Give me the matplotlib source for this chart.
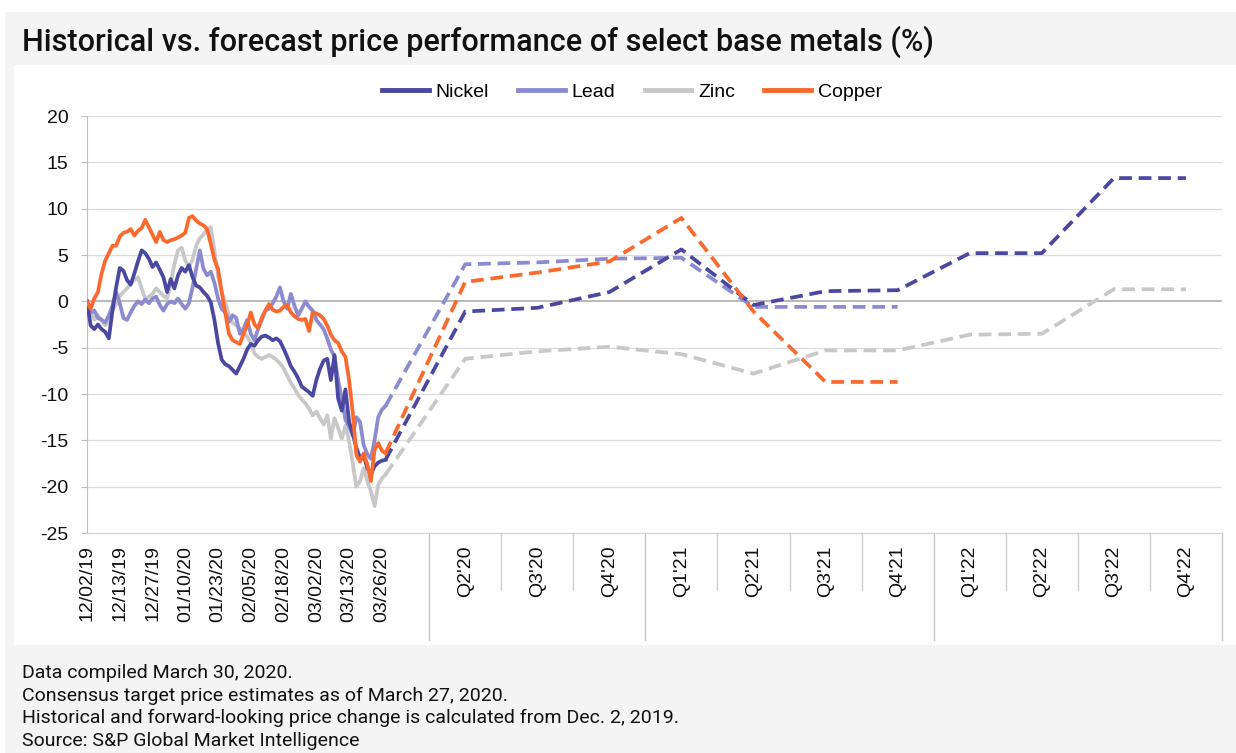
import matplotlib
matplotlib.use("Agg")
import matplotlib.pyplot as plt
from matplotlib import font_manager
from matplotlib.patches import Rectangle
import matplotlib.transforms as mtransforms

plt.rcParams['axes.unicode_minus'] = False

# fonts
names = {f.name for f in font_manager.fontManager.ttflist}
head_font = 'Roboto' if 'Roboto' in names else 'Liberation Sans'
plt.rcParams['font.family'] = ['Liberation Sans', 'DejaVu Sans']

# ---- data ----
date_labels = ['12/02/19', '12/13/19', '12/27/19', '01/10/20', '01/23/20',
               '02/05/20', '02/18/20', '03/02/20', '03/13/20', '03/26/20']
quarter_labels = ["Q2'20", "Q3'20", "Q4'20", "Q1'21", "Q2'21", "Q3'21",
                  "Q4'21", "Q1'22", "Q2'22", "Q3'22", "Q4'22"]

# daily history, 12/02/19 .. 03/27/20 (83 trading days)
nickel_hist = [0, -2.6, -3.0, -2.5, -3.0, -3.3, -4.0, -1.0, 1.5, 3.6,
               3.3, 2.3, 1.8, 3.0, 4.3, 5.5, 5.2, 4.6, 3.7, 4.2,
               3.4, 2.6, 1.0, 2.4, 1.4, 2.8, 3.6, 3.2, 3.9, 2.6,
               1.7, 1.5, 1.0, 0.6, -0.1, -2.0, -4.5, -6.3, -6.8, -7.0,
               -7.4, -7.8, -7.0, -6.2, -5.2, -4.6, -4.8, -4.2, -3.8, -3.7,
               -3.9, -4.2, -4.0, -4.3, -5.1, -6.0, -7.0, -7.6, -8.3, -9.2,
               -9.5, -9.8, -10.2, -8.5, -7.3, -6.4, -6.2, -8.5, -5.8, -10.5,
               -11.8, -9.5, -13.0, -14.3, -15.8, -16.9, -16.6, -18.0, -18.7, -17.8,
               -17.4, -17.2, -17.1]
lead_hist = [0, -1.2, -1.0, -1.8, -2.0, -2.3, -1.5, -0.5, 1.0, -0.2,
             -1.8, -2.0, -1.2, -0.5, 0.0, -0.3, 0.2, -0.2, 0.3, 0.5,
             -0.4, -1.0, -0.3, 0.0, -0.2, 0.3, -0.3, -0.8, -0.2, 1.5,
             3.5, 5.5, 3.5, 2.8, 3.2, 2.0, 0.3, -0.8, -1.2, -2.2,
             -1.5, -1.8, -3.5, -3.0, -2.0, -3.5, -4.2, -3.0, -2.0, -1.0,
             -0.8, -0.2, 0.5, 1.5, 0.0, -0.8, 0.8, -0.5, -1.5, -0.8,
             0.0, -0.6, -1.0, -2.0, -2.5, -3.0, -4.0, -5.2, -6.0, -8.5,
             -10.5, -12.8, -13.5, -14.5, -12.5, -13.0, -15.5, -16.5, -17.0, -15.0,
             -12.5, -11.7, -11.3]
zinc_hist = [0, -1.0, -2.0, -1.5, -2.0, -2.6, -2.2, -1.0, -0.3, 0.6,
             1.0, 1.4, 1.9, 2.3, 2.6, 1.4, 0.3, 0.5, 0.8, 1.4,
             1.0, 0.6, 0.3, 2.0, 4.0, 5.5, 5.8, 4.4, 3.7, 4.5,
             6.0, 6.8, 7.2, 7.8, 8.0, 5.5, 2.8, 1.0, -0.1, -1.5,
             -2.3, -2.6, -2.9, -3.3, -3.8, -4.5, -5.6, -6.0, -6.2, -6.0,
             -5.8, -6.0, -6.3, -6.7, -7.2, -8.0, -8.8, -9.4, -10.1, -10.6,
             -11.0, -11.6, -12.3, -11.9, -12.6, -13.3, -12.3, -14.8, -12.6, -13.7,
             -14.8, -13.4, -15.1, -17.5, -20.0, -19.4, -18.0, -19.4, -20.5, -22.1,
             -19.8, -19.1, -18.7]
copper_hist = [0, -0.8, 0.3, 1.0, 3.0, 4.4, 5.2, 6.0, 6.0, 7.0,
               7.4, 7.5, 7.8, 7.1, 7.6, 7.9, 8.8, 8.0, 7.2, 6.4,
               7.5, 6.6, 6.4, 6.6, 6.7, 6.9, 7.1, 7.4, 9.0, 9.2,
               8.7, 8.4, 8.2, 7.8, 6.2, 4.5, 3.5, 1.0, -1.3, -3.5,
               -4.2, -4.4, -4.6, -3.5, -2.6, -1.2, -2.5, -2.9, -1.8, -1.0,
               -0.3, -0.9, -1.1, -1.0, -0.6, -0.4, -1.2, -1.6, -1.9, -2.0,
               -1.9, -3.2, -1.2, -1.3, -1.5, -1.9, -2.6, -3.6, -4.2, -4.5,
               -5.4, -6.0, -8.5, -12.0, -16.6, -17.3, -16.4, -17.6, -19.4, -16.0,
               -15.3, -16.1, -16.4]

# quarterly consensus forecasts
nickel_fc = [-1.1, -0.7, 1.0, 5.6, -0.4, 1.1, 1.2, 5.2, 5.2, 13.3, 13.3]
lead_fc = [4.0, 4.2, 4.6, 4.7, -0.6, -0.6, -0.6]
zinc_fc = [-6.2, -5.4, -4.9, -5.7, -7.8, -5.3, -5.3, -3.6, -3.5, 1.3, 1.3]
copper_fc = [2.1, 3.1, 4.3, 9.0, -1.1, -8.7, -8.7]

# ---- layout (x in trading-day units, quarters take QW units each) ----
SEP = 94.0
QW = 19.8
n_hist = len(nickel_hist)
x_hist = list(range(n_hist))
x_q = [SEP + QW * (k + 0.5) for k in range(len(quarter_labels))]
x_end = SEP + QW * len(quarter_labels)

colors = {'Nickel': '#4B48A1', 'Lead': '#8D8BD0', 'Zinc': '#C8C8C8', 'Copper': '#FA6A2E'}
series = [('Zinc', zinc_hist, zinc_fc), ('Lead', lead_hist, lead_fc),
          ('Nickel', nickel_hist, nickel_fc), ('Copper', copper_hist, copper_fc)]

W, H = 1236, 753
fig = plt.figure(figsize=(W / 100, H / 100), dpi=100, facecolor='white')

# background panels
fig.patches.append(Rectangle((5 / W, 0), 1 - 5 / W, 1 - 12 / H, transform=fig.transFigure,
                             facecolor='#F4F4F4', edgecolor='none', zorder=-10))
fig.patches.append(Rectangle((14 / W, 1 - 645 / H), 1 - 14 / W, (645 - 65) / H,
                             transform=fig.transFigure, facecolor='white',
                             edgecolor='none', zorder=-9))

fig.text(22 / W, 1 - 42 / H, 'Historical vs. forecast price performance of select base metals (%)',
         family=head_font, fontsize=22, fontweight='medium', va='center', ha='left', color='#111111')

notes = ['Data compiled March 30, 2020.',
         'Consensus target price estimates as of March 27, 2020.',
         'Historical and forward-looking price change is calculated from Dec. 2, 2019.',
         'Source: S&P Global Market Intelligence']
for k, line in enumerate(notes):
    fig.text(22 / W, 1 - (673 + 22.5 * k) / H, line, family=head_font, fontsize=14,
             va='center', ha='left', color='#111111')

ax = fig.add_axes([87 / W, 1 - 533 / H, (1222 - 87) / W, 417 / H])
ax.set_facecolor('none')
ax.set_xlim(0, x_end)
ax.set_ylim(-25, 20)

for name, hist, fc in series:
    c = colors[name]
    z = {'Zinc': 2, 'Lead': 3, 'Nickel': 4, 'Copper': 5}[name]
    ax.plot(x_hist, hist, color=c, lw=2.7, zorder=z, solid_joinstyle='round')
    ax.plot([x_hist[-1]] + x_q[:len(fc)], [hist[-1]] + fc, color=c, lw=2.7,
            dashes=(3.4, 1.8), zorder=z)

# grid and axes
ax.set_yticks(range(-25, 21, 5))
ax.set_yticklabels([str(v) for v in range(-25, 21, 5)])
for v in range(-20, 21, 5):
    ax.axhline(v, color='#A6A6A6' if v == 0 else '#DCDCDC', lw=1.1 if v == 0 else 0.9, zorder=1)
for s in ['top', 'right']:
    ax.spines[s].set_visible(False)
ax.spines['left'].set_color('#BFBFBF')
ax.spines['bottom'].set_color('#D0D0D0')
ax.tick_params(axis='y', length=4.5, color='#BFBFBF', pad=9, labelsize=14, labelcolor='#111111')

xt = [x_hist[9 * k] for k in range(len(date_labels))] + x_q
ax.set_xticks(xt)
ax.set_xticklabels(date_labels + quarter_labels, rotation=90, fontsize=14, color='#111111')
ax.tick_params(axis='x', length=0, pad=9)

# category group separators below the axis
trans = mtransforms.blended_transform_factory(ax.transData, ax.transAxes)
long_lines = [SEP, SEP + 3 * QW, SEP + 7 * QW, x_end]
short_lines = [SEP + QW * k for k in range(1, 11) if k not in (3, 7)]
for xv in long_lines:
    ax.plot([xv, xv], [0, -107 / 417], color='#C8C8C8', lw=1, transform=trans, clip_on=False)
for xv in short_lines:
    ax.plot([xv, xv], [0, -57 / 417], color='#D0D0D0', lw=1, transform=trans, clip_on=False)

# legend
handles = [plt.Line2D([], [], color=colors[n], lw=3.5) for n in ['Nickel', 'Lead', 'Zinc', 'Copper']]
fig.legend(handles, ['Nickel', 'Lead', 'Zinc', 'Copper'], loc='center',
           bbox_to_anchor=(632 / W, 1 - 92 / H), ncol=4, frameon=False, fontsize=14,
           handlelength=2.4, handletextpad=0.35, columnspacing=1.5)

fig.savefig('out.png', dpi=100)
